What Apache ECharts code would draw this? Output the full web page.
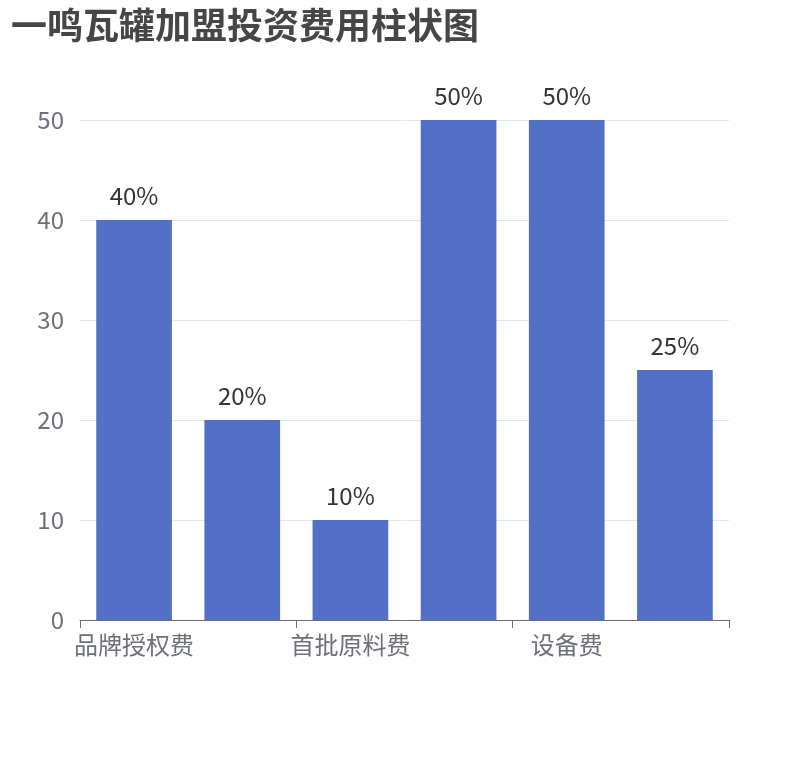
<!DOCTYPE html>
<html>
<head>
<meta charset="utf-8">
<script src="https://cdn.jsdelivr.net/npm/echarts@6/dist/echarts.min.js"></script>
<style>
  html, body { margin: 0; padding: 0; background: #fff; }
  #main { width: 810px; height: 760px; }
</style>
</head>
<body>
<div id="main"></div>
<script>
// 数据
const titleText = '一鸣瓦罐加盟投资费用柱状图'
const categories = ['品牌授权费', '装修费用', '首批原料费', '人员培训费', '设备费', '流动资金']
const values = [40, 20, 10, 50, 50, 25]
const yTicks = { min: 0, max: 50, interval: 10 }

const FONT = '"Noto Sans CJK SC", "Noto Sans", sans-serif'

const chart = echarts.init(document.getElementById('main'), null, { renderer: 'canvas' })

chart.setOption({
  animation: false,
  title: {
    text: titleText,
    left: 6,
    top: 2,
    textStyle: { fontSize: 36, fontWeight: 'bold', color: '#464646', fontFamily: FONT }
  },
  grid: { left: 80, right: 81, top: 120, bottom: 140 },
  xAxis: {
    type: 'category',
    data: categories,
    axisLine: { lineStyle: { color: '#6E7079' } },
    axisTick: { show: true, length: 8 },
    axisLabel: { interval: 1, fontSize: 24, color: '#6E7079', fontFamily: FONT, margin: 13 }
  },
  yAxis: {
    type: 'value',
    min: yTicks.min,
    max: yTicks.max,
    interval: yTicks.interval,
    axisLabel: { fontSize: 24, color: '#6E7079', fontFamily: FONT, margin: 16 },
    splitLine: { lineStyle: { color: '#E0E6F1' } }
  },
  series: [{
    type: 'bar',
    data: values,
    barWidth: '70%',
    itemStyle: { color: '#5470C6' },
    label: {
      show: true,
      position: 'top',
      distance: 12,
      formatter: '{c}%',
      fontSize: 24,
      color: '#333',
      fontFamily: FONT
    }
  }]
})
</script>
</body>
</html>
